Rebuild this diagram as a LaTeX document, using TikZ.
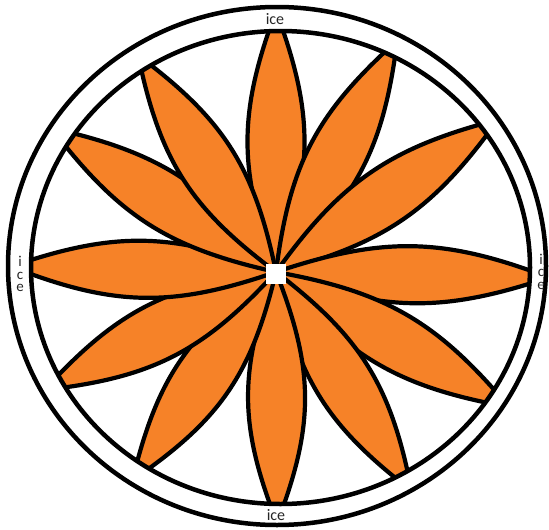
\documentclass[tikz,border=0pt]{standalone}
\usepackage{fontspec}
\setmainfont{Carlito}
\definecolor{petalorange}{RGB}{246,130,40}
\begin{document}
\begin{tikzpicture}[x=1pt,y=-1pt,
  petal/.style={fill=petalorange,draw=black,line width=4.2pt,line join=round},
  ring/.style={draw=black,line width=4.5pt},
  lbl/.style={font=\fontsize{16}{12}\selectfont,inner sep=0pt,align=center,text=black!85},
  vlbl/.style={font=\fontsize{15}{12.5}\selectfont,inner sep=0pt,align=center,text=black!85}]
\useasboundingbox (0,0) rectangle (549,530);
\coordinate (C) at (276,272);
\begin{scope}
  \clip (280.5,267.5) ellipse [x radius=249.5, y radius=236.5];
  \foreach \tx/\ty in {276/33, 387/60, 480/132, 527/277, 490/396, 400/472, 277/501, 145/462, 64/380, 33/267, 70/140, 150/74}{
    \pgfmathsetmacro\ang{atan2(272-\ty,\tx-276)}
    \pgfmathsetmacro\len{veclen(\tx-276,272-\ty)+22}
    \begin{scope}[shift={(C)},rotate=\ang]
      \path[petal] (0,0) .. controls ({0.39*\len},38) and ({0.61*\len},38) .. (\len,0)
                         .. controls ({0.61*\len},-38) and ({0.39*\len},-38) .. cycle;
    \end{scope}
  }
\end{scope}
\node[fill=white,minimum size=20pt,inner sep=0pt] (hub) at (276,274) {};
\draw[ring] (277,266) ellipse [x radius=269, y radius=259];
\draw[ring] (280.5,267.5) ellipse [x radius=249.5, y radius=236.5];
\node[lbl] (top) at (275,19.5) {ice};
\node[lbl] (bottom) at (276,515.5) {ice};
\node[vlbl] (left) at (20,274) {i\\c\\e};
\node[vlbl] (right) at (541,271.5) {i\\c\\e};
\end{tikzpicture}
\end{document}
